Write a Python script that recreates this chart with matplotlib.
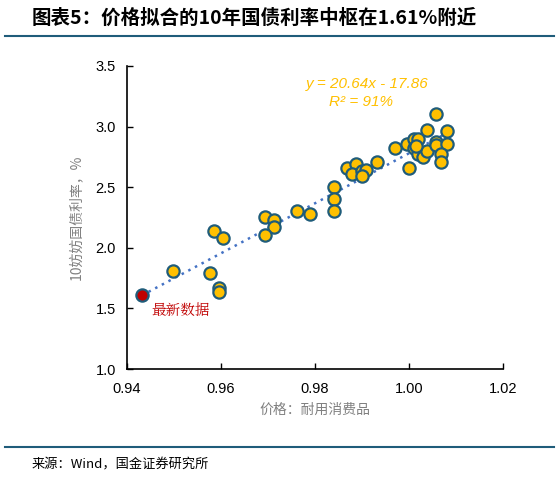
import matplotlib
matplotlib.use("Agg")
import matplotlib.pyplot as plt
import numpy as np

plt.rcParams['font.family'] = ['Noto Sans CJK SC', 'DejaVu Sans']

# historical points: price index (durable consumer goods) vs 10y yield
price = [0.9499, 0.9586, 0.9605, 0.9576, 0.9595, 0.9595,
         0.9693, 0.9713, 0.9713, 0.9693, 0.9761, 0.9789,
         0.9841, 0.9841, 0.9841,
         0.9869, 0.9888, 0.9879, 0.9899, 0.9908, 0.9899, 0.9932,
         0.9970, 1.0000, 0.9996, 1.0010, 1.0019, 1.0010, 1.0019,
         1.0029, 1.0038, 1.0038, 1.0057, 1.0057, 1.0057, 1.0080,
         1.0080, 1.0067, 1.0067, 1.0015]
yield_10y = [1.81, 2.14, 2.08, 1.79, 1.67, 1.635,
             2.25, 2.23, 2.17, 2.105, 2.30, 2.28,
             2.50, 2.40, 2.30,
             2.66, 2.69, 2.61, 2.63, 2.64, 2.59, 2.71,
             2.82, 2.66, 2.86, 2.90, 2.90, 2.82, 2.77,
             2.75, 2.80, 2.97, 3.10, 2.87, 2.85, 2.96,
             2.86, 2.77, 2.71, 2.84]

latest_price = 0.9432
latest_yield = 1.61

slope, intercept = 20.64, -17.86
fit_x = [0.9432, 1.0075]

xticks = [0.94, 0.96, 0.98, 1.00, 1.02]
yticks = [1.0, 1.5, 2.0, 2.5, 3.0, 3.5]

fig = plt.figure(figsize=(5.59, 4.78), dpi=100)
ax = fig.add_axes([0.227, 0.228, 0.673, 0.634])

fx = np.array(fit_x)
ax.plot(fx, slope * fx + intercept, linestyle=(0, (1, 2.0)), color='#4472C4',
        linewidth=1.8, zorder=2)
ax.scatter(price, yield_10y, s=78, facecolor='#FFC000', edgecolor='#1F5C7A',
           linewidth=1.6, zorder=3)
ax.scatter([latest_price], [latest_yield], s=78, facecolor='#C00000',
           edgecolor='#1F5C7A', linewidth=1.6, zorder=4)

ax.set_xlim(0.94, 1.02)
ax.set_ylim(1.0, 3.5)
ax.set_xticks(xticks)
ax.set_xticklabels([f"{v:.2f}" for v in xticks], family='Liberation Sans')
ax.set_yticks(yticks)
ax.set_yticklabels([f"{v:.1f}" for v in yticks], family='Liberation Sans')
ax.tick_params(direction='in', length=4, width=1, labelsize=10.5)
ax.tick_params(axis='x', pad=9)
ax.tick_params(axis='y', pad=8)
for s in ['top', 'right']:
    ax.spines[s].set_visible(False)
for s in ['left', 'bottom']:
    ax.spines[s].set_linewidth(1.2)

ax.text(0.9912, 3.35, "y = 20.64x - 17.86", color='#FFC000', fontsize=11,
        style='italic', family='Liberation Sans', ha='center', va='center')
ax.text(0.9898, 3.20, "R² = 91%", color='#FFC000', fontsize=11,
        style='italic', family='Liberation Sans', ha='center', va='center')
ax.text(0.9452, 1.48, "最新数据", color='#C00000', fontsize=10.5,
        family=['Noto Serif CJK SC', 'Noto Sans CJK SC'],
        ha='left', va='center')

fig.text(0.563, 0.142, "价格：耐用消费品", color='#808080', fontsize=10,
         ha='center', va='center')
fig.text(0.136, 0.545, "10妨妨国债利率，%", color='#808080', fontsize=10,
         ha='center', va='center', rotation=90)

fig.text(0.057, 0.962, "图表5：价格拟合的10年国债利率中枢在1.61%附近",
         fontsize=14, fontweight='bold', ha='left', va='center')
fig.add_artist(plt.Line2D([0.009, 0.991], [0.925, 0.925], color='#1F5C7A',
                          linewidth=1.5, transform=fig.transFigure))
fig.add_artist(plt.Line2D([0.009, 0.991], [0.065, 0.065], color='#1F5C7A',
                          linewidth=1.5, transform=fig.transFigure))
fig.text(0.057, 0.027, "来源：Wind，国金证券研究所", fontsize=9.5,
         ha='left', va='center')

fig.savefig("out.png", dpi=100)
